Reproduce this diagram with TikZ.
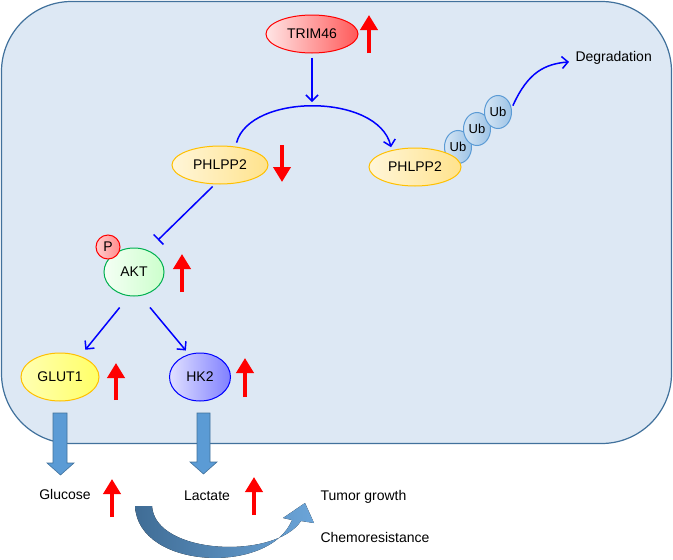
\documentclass[tikz,border=0pt]{standalone}
\usepackage{fontspec}
\setmainfont{Liberation Sans}
\usepackage{tikz}
\usetikzlibrary{arrows.meta, shapes.geometric}
\definecolor{cellfill}{HTML}{DDE8F4}
\definecolor{cellline}{HTML}{41719C}
\definecolor{blockblue}{HTML}{5B9BD5}
\definecolor{gold}{HTML}{FFC000}
\definecolor{aktgreen}{HTML}{00B050}
\definecolor{ubline}{HTML}{5B9BD5}

\begin{document}
\begin{tikzpicture}[x=1pt,y=-1pt,
    every node/.style={font=\fontsize{14}{16}\selectfont},
    prot/.style={ellipse,draw,inner sep=0pt,line width=1pt},
    act/.style={blue,line width=1.5pt,-{Straight Barb[length=6pt,width=12pt]}},
    uparr/.style={red,line width=4.5pt,-{Triangle[width=17pt,length=15pt]}},
    blockarr/.style={fill=blockblue,draw=cellline,line width=0.6pt}]
    \useasboundingbox (0,0) rectangle (673,560);
    % cell
    \draw[fill=cellfill,draw=cellline,line width=1.2pt,rounded corners=70pt] (1.5,1.5) rectangle (671.5,443.5);

    \node (trim)  at (312,34)  [prot,draw=red,left color=red!10,right color=red!65,minimum width=92pt,minimum height=38pt] {TRIM46};
    \node (phlA)  at (220,165) [prot,draw=gold,left color=gold!15,right color=gold!45,minimum width=96pt,minimum height=38pt] {PHLPP2};
    \node (ub1)   at (458,147) [prot,draw=ubline,left color=ubline!25,right color=ubline!60,minimum width=27pt,minimum height=33pt,font=\fontsize{13}{15}\selectfont] {Ub};
    \node (ub2)   at (477,129) [prot,draw=ubline,left color=ubline!25,right color=ubline!60,minimum width=27pt,minimum height=33pt,font=\fontsize{13}{15}\selectfont] {Ub};
    \node (ub3)   at (498,112) [prot,draw=ubline,left color=ubline!25,right color=ubline!60,minimum width=27pt,minimum height=33pt,font=\fontsize{13}{15}\selectfont] {Ub};
    \node (phlB)  at (415,167) [prot,draw=gold,left color=gold!15,right color=gold!45,minimum width=92pt,minimum height=38pt] {PHLPP2};
    \node (akt)   at (134,272) [prot,draw=aktgreen,left color=green!4,right color=green!20,minimum width=60pt,minimum height=48pt] {AKT};
    \node (pho)   at (108,247) [circle,draw=red,line width=1pt,inner sep=0pt,left color=red!20,right color=red!45,minimum size=24pt] {P};
    \node (glut)  at (60,377)  [prot,draw=gold,left color=yellow!30,right color=yellow!60,minimum width=78pt,minimum height=48pt] {GLUT1};
    \node (hk)    at (200,377) [prot,draw=blue,left color=blue!12,right color=blue!50,minimum width=61pt,minimum height=48pt] {HK2};

    \node (deg)   at (572,58)  [anchor=west] {Degradation};
    \node (glc)   at (65,494)  {Glucose};
    \node (lac)   at (207,496) {Lactate};
    \node (tum)   at (317,497) [anchor=west] {Tumor growth};
    \node (chem)  at (317,537) [anchor=west] {Chemoresistance};

    \coordinate (arctop) at (312,102);
    \coordinate (inhend) at (158,240);

    \draw[act,shorten <=4pt] (trim) -- (arctop);
    \draw[act,shorten <=4pt,shorten >=3pt] (phlA.50) .. controls (250,93) and (378,93) .. (phlB.144);
    \draw[act,shorten <=3pt,shorten >=3pt] (ub3.15) .. controls (528,72) and (545,64) .. (deg.base west);
    \draw[blue,line width=1.5pt,-{Bar[width=14pt]},shorten <=3pt] (phlA.255) -- (inhend);
    \draw[act,shorten <=14.6pt,shorten >=8pt] (akt.258) -- (glut.46);
    \draw[act,shorten <=15pt,shorten >=4.7pt] (akt.285) -- (hk.116);

    % up / down markers
    \draw[uparr] (369,53) -- (369,15);
    \draw[uparr] (282,145) -- (282,182);
    \draw[uparr] (182,292) -- (182,254);
    \draw[uparr] (116,400) -- (116,363);
    \draw[uparr] (245,397) -- (245,358);
    \draw[uparr] (112,517) -- (112,479);
    \draw[uparr] (254,515) -- (254,477);

    % transport arrows
    \draw[blockarr] (53,413) -- (67,413) -- (67,463) -- (74,463) -- (60.5,475) -- (47,463) -- (53,463) -- cycle;
    \draw[blockarr] (197,413) -- (210,413) -- (210,462) -- (217,462) -- (203.5,474) -- (190,462) -- (197,462) -- cycle;

    % curved arrow
    \fill[left color=blockblue!70!black,right color=blockblue!90!white]
        (135,506) .. controls (138,570) and (270,575) .. (292,520)
        -- (283,518) -- (305,503) -- (314,523) -- (301,521)
        .. controls (275,560) and (155,555) .. (152,506) -- cycle;
\end{tikzpicture}
\end{document}
